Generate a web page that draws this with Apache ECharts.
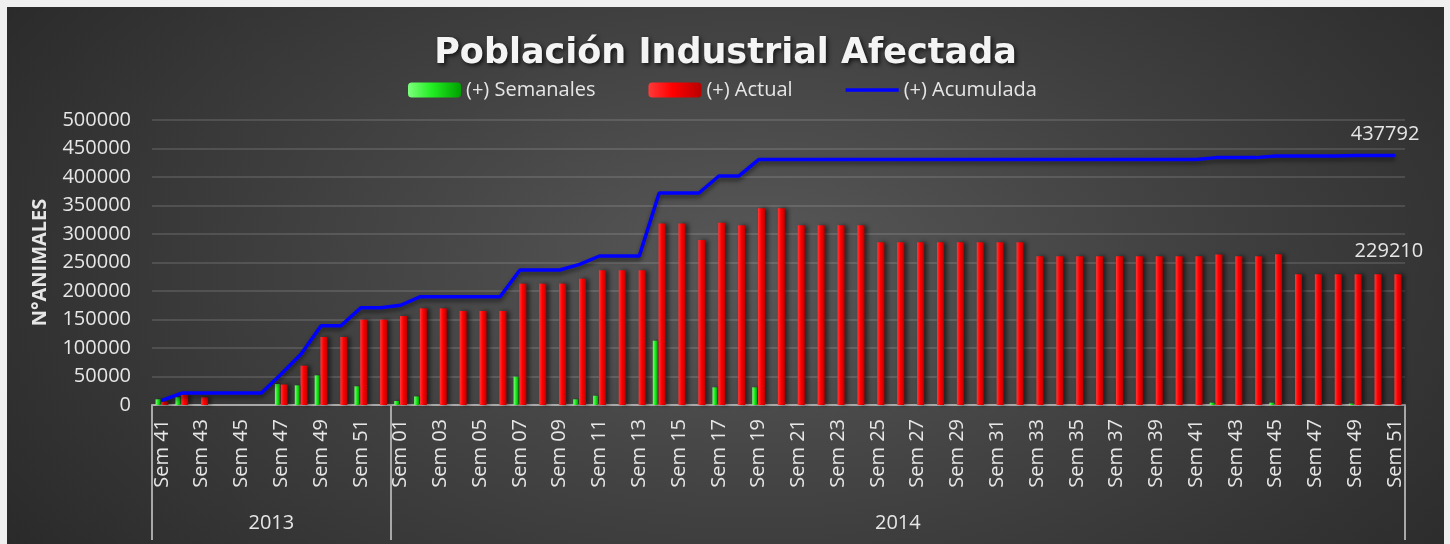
<!DOCTYPE html>
<html>
<head>
<meta charset="utf-8">
<script src="https://cdn.jsdelivr.net/npm/echarts@6/dist/echarts.min.js"></script>
<style>
  html, body { margin: 0; padding: 0; background: #f0f0f0; }
  #panel {
    position: absolute; left: 7px; top: 7px; width: 1437px; height: 537px;
    background: radial-gradient(ellipse 62% 95% at 52% 48%, #585858 0%, #3e3e3e 55%, #2a2a2a 100%);
  }
  #chart { width: 1437px; height: 537px; }
</style>
</head>
<body>
<div id="panel"><div id="chart"></div></div>
<script>
// week labels, 2013 then 2014
const weeks2013 = ['Sem 41', 'Sem 42', 'Sem 43', 'Sem 44', 'Sem 45', 'Sem 46', 'Sem 47', 'Sem 48', 'Sem 49', 'Sem 50', 'Sem 51', 'Sem 52'];
const weeks2014 = ['Sem 01', 'Sem 02', 'Sem 03', 'Sem 04', 'Sem 05', 'Sem 06', 'Sem 07', 'Sem 08', 'Sem 09', 'Sem 10',
  'Sem 11', 'Sem 12', 'Sem 13', 'Sem 14', 'Sem 15', 'Sem 16', 'Sem 17', 'Sem 18', 'Sem 19', 'Sem 20',
  'Sem 21', 'Sem 22', 'Sem 23', 'Sem 24', 'Sem 25', 'Sem 26', 'Sem 27', 'Sem 28', 'Sem 29', 'Sem 30',
  'Sem 31', 'Sem 32', 'Sem 33', 'Sem 34', 'Sem 35', 'Sem 36', 'Sem 37', 'Sem 38', 'Sem 39', 'Sem 40',
  'Sem 41', 'Sem 42', 'Sem 43', 'Sem 44', 'Sem 45', 'Sem 46', 'Sem 47', 'Sem 48', 'Sem 49', 'Sem 50', 'Sem 51'];
const years = ['2013', '2014'];

// (+) Semanales
const semanales2013 = [10000, 13500, null, null, null, null, 36800, 34500, 52000, null, 32800, null];
const semanales2014 = [7000, 15000, null, null, null, null, 49700, null, null, 10000,
  16300, null, null, 112800, null, null, 31000, null, 31000, null,
  null, null, null, null, null, null, null, null, null, null,
  null, null, null, null, null, null, null, null, null, null,
  null, 4000, null, null, 4000, null, null, null, 2500, null, null];

// (+) Actual
const actual2013 = [6000, 17500, 13500, null, null, null, 36000, 69000, 119300, 119300, 149700, 149700];
const actual2014 = [156000, 169600, 169600, 164900, 164900, 164900, 212900, 212900, 212900, 221600,
  236300, 236300, 236300, 318400, 318400, 289500, 319900, 315200, 345000, 345000,
  315200, 315200, 315200, 315200, 285400, 285400, 285400, 285400, 285400, 285400,
  285400, 285400, 261000, 261000, 261000, 261000, 261000, 261000, 261000, 261000,
  261000, 264000, 261000, 261000, 264500, 229210, 229210, 229210, 229210, 229210, 229210];

// (+) Acumulada
const acumulada2013 = [8000, 21000, 21000, 21000, 21000, 21000, 54400, 89500, 139000, 139000, 170700, 170700];
const acumulada2014 = [175000, 190000, 190000, 190000, 190000, 190000, 236800, 236800, 236800, 246800,
  261400, 261400, 261400, 372000, 372000, 372000, 401700, 401700, 430500, 430500,
  430500, 430500, 430500, 430500, 430500, 430500, 430500, 430500, 430500, 430500,
  430500, 430500, 430500, 430500, 430500, 430500, 430500, 430500, 430500, 430500,
  430500, 434000, 434000, 434000, 437000, 437000, 437000, 437000, 437792, 437792, 437792];

const weeks = weeks2013.concat(weeks2014);
const semanales = semanales2013.concat(semanales2014);
const actual = actual2013.concat(actual2014);
const acumulada = acumulada2013.concat(acumulada2014);
const lastIdx = weeks.length - 1;

const n13 = weeks2013.length;
const nAll = weeks.length;

const font = 'Open Sans';
const txt = '#e6e6e6';
const axisGray = '#a8a8a8';

const chart = echarts.init(document.getElementById('chart'), null, { renderer: 'canvas' });

// only the last point gets a value label
const lastOnly = (p) => (p.dataIndex === lastIdx ? String(p.value) : '');

const option = {
  backgroundColor: 'transparent',
  textStyle: { fontFamily: font },
  title: {
    text: 'Población Industrial Afectada',
    left: 'center',
    top: 24,
    textStyle: {
      color: '#f4f4f4',
      fontFamily: 'DejaVu Sans',
      fontWeight: 'bold',
      fontSize: 35,
      textShadowColor: 'rgba(0,0,0,0.7)',
      textShadowBlur: 4,
      textShadowOffsetX: 2,
      textShadowOffsetY: 2
    }
  },
  legend: {
    left: 396,
    top: 67,
    itemWidth: 53,
    itemHeight: 15,
    itemGap: 53,
    textStyle: { color: txt, fontSize: 20, fontFamily: font, lineHeight: 22 },
    data: [
      '(+) Semanales',
      '(+) Actual',
      { name: '(+) Acumulada', icon: 'path://M0,0H53V3.5H0Z' }
    ]
  },
  grid: {
    left: 145,
    right: 39,
    top: 113,
    bottom: 139,
    outerBoundsMode: 'none'
  },
  xAxis: [
    {
      type: 'category',
      data: weeks,
      axisLine: { show: true, lineStyle: { color: axisGray, width: 2 } },
      axisTick: { show: false },
      axisLabel: {
        interval: 1,
        rotate: 90,
        margin: 14,
        color: txt,
        fontSize: 20,
        fontFamily: font
      }
    },
    {
      // year grouping band under the week labels
      type: 'value',
      min: 0,
      max: nAll,
      position: 'bottom',
      axisLine: { show: false },
      splitLine: { show: false },
      axisTick: {
        show: true,
        customValues: [0, n13, nAll],
        length: 135,
        lineStyle: { color: axisGray, width: 2 }
      },
      axisLabel: {
        customValues: [n13 / 2, n13 + weeks2014.length / 2],
        formatter: (v) => (v < n13 ? years[0] : years[1]),
        margin: 108,
        color: txt,
        fontSize: 20,
        fontFamily: font
      }
    }
  ],
  yAxis: {
    type: 'value',
    min: 0,
    max: 500000,
    interval: 50000,
    name: 'N°ANIMALES',
    nameLocation: 'middle',
    nameGap: 102,
    nameTextStyle: { color: txt, fontSize: 20, fontWeight: 'bold', fontFamily: font },
    axisLine: { show: false },
    axisTick: { show: false },
    axisLabel: { color: txt, fontSize: 20, margin: 21, fontFamily: font, formatter: (v) => String(v) },
    splitLine: { lineStyle: { color: 'rgba(255,255,255,0.12)', width: 2 } }
  },
  series: [
    {
      name: '(+) Semanales',
      type: 'bar',
      data: semanales,
      barWidth: 5,
      itemStyle: {
        color: new echarts.graphic.LinearGradient(0, 0, 1, 0, [
          { offset: 0, color: '#7dff7d' },
          { offset: 0.45, color: '#22ee22' },
          { offset: 1, color: '#00a000' }
        ]),
        shadowColor: 'rgba(0,0,0,0.55)',
        shadowBlur: 3,
        shadowOffsetX: 2
      }
    },
    {
      name: '(+) Actual',
      type: 'bar',
      data: actual,
      barWidth: 7,
      barGap: '15%',
      itemStyle: {
        color: new echarts.graphic.LinearGradient(0, 0, 1, 0, [
          { offset: 0, color: '#ff3a3a' },
          { offset: 0.45, color: '#ff0000' },
          { offset: 1, color: '#b80000' }
        ]),
        shadowColor: 'rgba(0,0,0,0.55)',
        shadowBlur: 4,
        shadowOffsetX: 3
      },
      label: {
        show: true,
        position: 'top',
        distance: 13,
        offset: [-9, 0],
        color: txt,
        fontSize: 20,
        fontFamily: font,
        formatter: lastOnly
      }
    },
    {
      name: '(+) Acumulada',
      type: 'line',
      data: acumulada,
      symbol: 'circle',
      symbolSize: 2,
      showSymbol: true,
      showAllSymbol: true,
      z: 5,
      lineStyle: {
        color: '#0000ff',
        width: 3.5,
        shadowColor: 'rgba(0,0,0,0.5)',
        shadowBlur: 4,
        shadowOffsetY: 3
      },
      itemStyle: { color: '#0000ff' },
      label: {
        show: true,
        position: 'top',
        distance: 10,
        offset: [-10, 0],
        color: txt,
        fontSize: 20,
        fontFamily: font,
        formatter: lastOnly
      }
    }
  ]
};

chart.setOption(option);
window.addEventListener('resize', () => chart.resize());
</script>
</body>
</html>
